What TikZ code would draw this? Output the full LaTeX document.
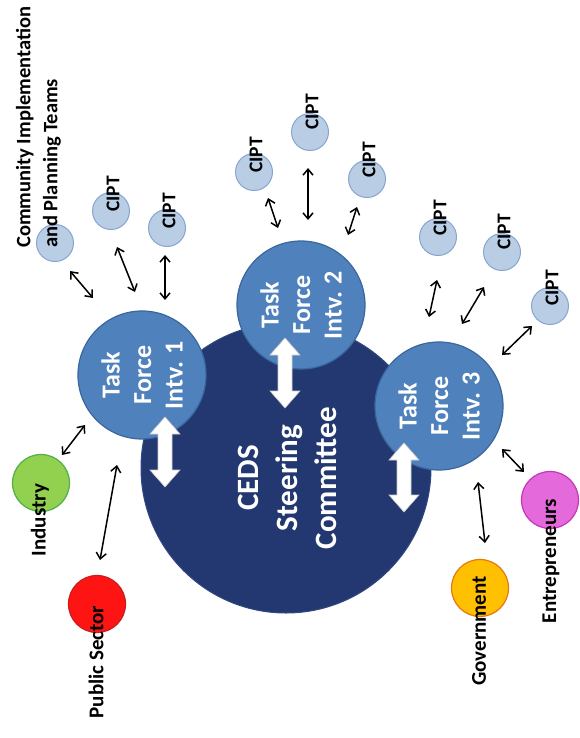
\documentclass[tikz,border=0pt]{standalone}
\usepackage{fontspec}
\setmainfont{Carlito}
\usetikzlibrary{arrows.meta,calc}
\definecolor{navy}{RGB}{35,55,112}
\definecolor{navyedge}{RGB}{50,72,130}
\definecolor{tfblue}{RGB}{79,129,189}
\definecolor{tfedge}{RGB}{58,103,158}
\definecolor{ciptfill}{RGB}{185,205,229}
\definecolor{ciptedge}{RGB}{135,165,208}
\definecolor{indfill}{RGB}{146,208,80}
\definecolor{indedge}{RGB}{80,175,70}
\definecolor{pubfill}{RGB}{255,20,20}
\definecolor{pubedge}{RGB}{200,30,30}
\definecolor{govfill}{RGB}{255,192,0}
\definecolor{govedge}{RGB}{228,120,20}
\definecolor{entfill}{RGB}{228,105,218}
\definecolor{entedge}{RGB}{195,55,185}
\newcommand\wharrow[3]{%
  \draw[wa] (#1,#2) -- (#1+15,#2+17) -- (#1+7,#2+17) -- (#1+7,#3-17) -- (#1+15,#3-17) -- (#1,#3)
    -- (#1-15,#3-17) -- (#1-7,#3-17) -- (#1-7,#2+17) -- (#1-15,#2+17) -- cycle;}
\begin{document}
\begin{tikzpicture}[x=1pt,y=-1pt,
  tf/.style={circle, minimum size=128pt, inner sep=0pt, fill=tfblue, draw=tfedge, line width=1.2pt,
    text=white, font=\fontsize{26}{31.5}\selectfont\bfseries, align=center, rotate=90},
  cipt/.style={circle, minimum size=37pt, inner sep=0pt, fill=ciptfill, draw=ciptedge, line width=1pt},
  ciptlbl/.style={font=\fontsize{19.5}{22}\selectfont\bfseries, rotate=90, inner sep=0pt},
  side/.style={circle, minimum size=57pt, inner sep=0pt, line width=1.2pt},
  sidelbl/.style={font=\fontsize{21}{25}\selectfont\bfseries, rotate=90, inner sep=0pt},
  thin/.style={{Straight Barb[length=6pt,width=10pt]}-{Straight Barb[length=6pt,width=10pt]}, line width=1.5pt},
  wa/.style={fill=white, draw=gray!40, line width=0.6pt, line join=miter}
]
\fill[white] (0,0) rectangle (579,738);
\useasboundingbox (0,0) rectangle (579,738);

% central committee
\node[circle, minimum size=290pt, inner sep=0pt, fill=navy, draw=navyedge, line width=1pt] (ceds) at (286,468) {};
\node[rotate=90, text=white, font=\fontsize{31}{39}\selectfont\bfseries, align=center, inner sep=0pt] (cedstxt) at (287,478) {CEDS\\Steering\\Committee};

% task forces
\node[tf] (tf1) at (142,375) {Task\\Force\\Intv. 1};
\node[tf] (tf2) at (301,305) {Task\\Force\\Intv. 2};
\node[tf] (tf3) at (439,406) {Task\\Force\\Intv. 3};

% white block arrows
\coordinate (w1a) at (165,417); \coordinate (w1b) at (165,487);
\coordinate (w2a) at (285,338); \coordinate (w2b) at (285,408);
\coordinate (w3a) at (404,443); \coordinate (w3b) at (404,512);
\wharrow{165}{417}{487}
\wharrow{285}{338}{408}
\wharrow{404}{443}{512}

% CIPT circles
\node[cipt] (c1a) at (55,243) {};
\node[cipt] (c1b) at (111,211) {};
\node[cipt] (c1c) at (167,228) {};
\node[cipt] (c2a) at (254,172) {};
\node[cipt] (c2b) at (310,132) {};
\node[cipt] (c2c) at (367,179) {};
\node[cipt] (c3a) at (438,237) {};
\node[cipt] (c3b) at (502,252) {};
\node[cipt] (c3c) at (550,306) {};
\node[ciptlbl] (l1b) at ($(c1b)+(2,-17)$) {CIPT};
\node[ciptlbl] (l1c) at ($(c1c)+(2,-17)$) {CIPT};
\node[ciptlbl] (l2a) at ($(c2a)+(2,-17)$) {CIPT};
\node[ciptlbl] (l2b) at ($(c2b)+(2,-20)$) {CIPT};
\node[ciptlbl] (l2c) at ($(c2c)+(2,-19)$) {CIPT};
\node[ciptlbl] (l3a) at ($(c3a)+(2,-19)$) {CIPT};
\node[ciptlbl] (l3b) at ($(c3b)+(2,-20)$) {CIPT};
\node[ciptlbl] (l3c) at ($(c3c)+(2,-18)$) {CIPT};

\node[rotate=90, anchor=west, align=left, inner sep=0pt, font=\fontsize{20.5}{27}\selectfont\bfseries] (cipttitle) at (38.5,248)
  {Community Implementation\\and Planning Teams};

% stakeholder circles
\node[side, fill=indfill, draw=indedge] (ind) at (41,483) {};
\node[side, fill=pubfill, draw=pubedge] (pub) at (97,604) {};
\node[side, fill=govfill, draw=govedge] (gov) at (480,588) {};
\node[side, fill=entfill, draw=entedge] (ent) at (550,500) {};
\node[sidelbl] (indl) at (40,520) {Industry};
\node[sidelbl] (publ) at (96,662) {Public Sector};
\node[sidelbl] (govl) at (479,631) {Government};
\node[sidelbl] (entl) at (551,561) {Entrepreneurs};

% thin arrow end points
\coordinate (a1s) at (70,271);  \coordinate (a1e) at (93,298);
\coordinate (a2s) at (117,247); \coordinate (a2e) at (135,292);
\coordinate (a3s) at (165,255); \coordinate (a3e) at (165,300);
\coordinate (b1s) at (268,198); \coordinate (b1e) at (278,228);
\coordinate (b2s) at (308,168); \coordinate (b2e) at (308,220);
\coordinate (b3s) at (357,207); \coordinate (b3e) at (348,235);
\coordinate (d1s) at (437,280); \coordinate (d1e) at (429,317);
\coordinate (d2s) at (484,287); \coordinate (d2e) at (462,324);
\coordinate (d3s) at (532,326); \coordinate (d3e) at (502,355);
\coordinate (e1s) at (62,455);  \coordinate (e1e) at (85,425);
\coordinate (e2s) at (117,465); \coordinate (e2e) at (100,560);
\coordinate (e3s) at (478,482); \coordinate (e3e) at (485,543);
\coordinate (e4s) at (502,449); \coordinate (e4e) at (524,472);
\foreach \p in {a1,a2,a3,b1,b2,b3,d1,d2,d3,e1,e2,e3,e4}
  \draw[thin] (\p s) -- (\p e);
\end{tikzpicture}
\end{document}
